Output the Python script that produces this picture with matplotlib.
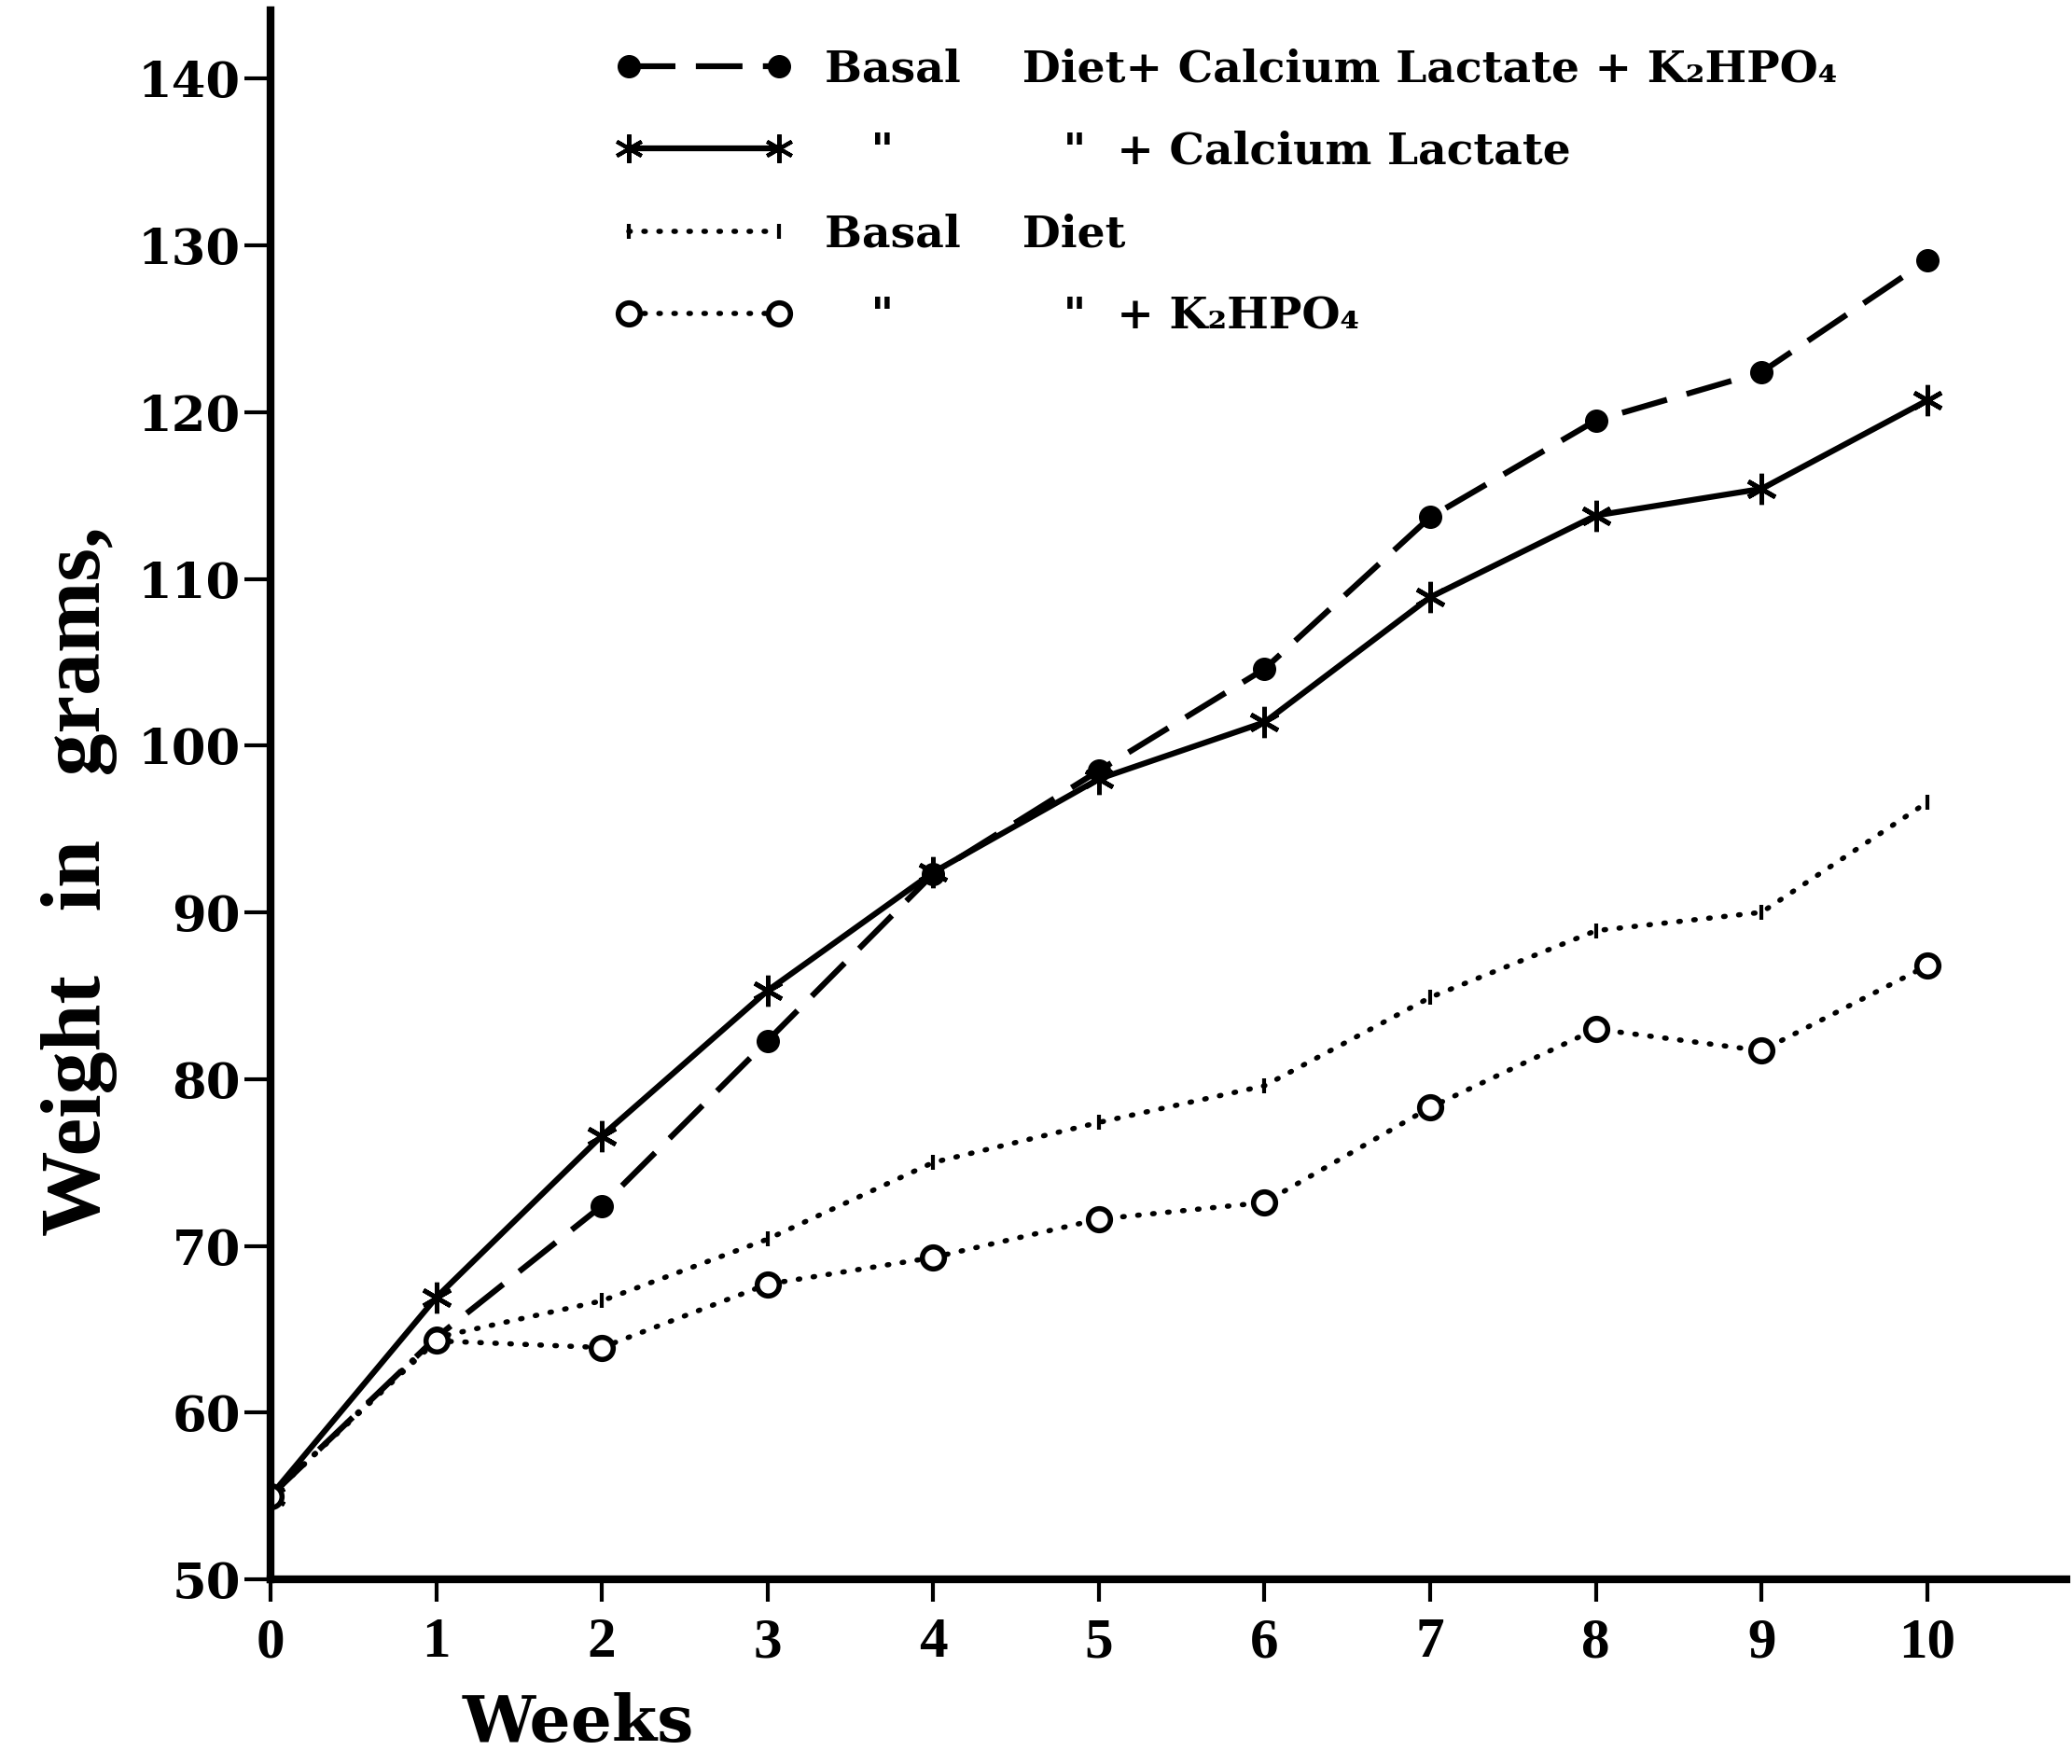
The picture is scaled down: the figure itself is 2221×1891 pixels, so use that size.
import matplotlib
matplotlib.use("Agg")
import matplotlib.pyplot as plt
from matplotlib.lines import Line2D
import numpy as np

plt.rcParams["font.family"] = "DejaVu Serif"
plt.rcParams["font.weight"] = "bold"

weeks = [0, 1, 2, 3, 4, 5, 6, 7, 8, 9, 10]

# basal diet + calcium lactate + K2HPO4
ca_k = [55.0, 64.5, 72.4, 82.3, 92.3, 98.5, 104.6, 113.7, 119.5, 122.4, 129.1]
# basal diet + calcium lactate
ca = [55.0, 66.9, 76.6, 85.3, 92.4, 98.0, 101.4, 108.9, 113.8, 115.4, 120.7]
# basal diet
basal = [55.0, 64.5, 66.7, 70.4, 75.0, 77.4, 79.6, 84.9, 88.9, 90.0, 96.6]
# basal diet + K2HPO4
basal_k = [55.0, 64.3, 63.9, 67.7, 69.3, 71.6, 72.6, 78.3, 83.0, 81.7, 86.8]

yticks = [50, 60, 70, 80, 90, 100, 110, 120, 130, 140]
labels = ["Basal    Diet+ Calcium Lactate + K\u2082HPO\u2084",
          '   "           "  + Calcium Lactate',
          "Basal    Diet",
          '   "           "  + K\u2082HPO\u2084']

W, H = 2221, 1891
fig = plt.figure(figsize=(W/100., H/100.), dpi=100)
ax = fig.add_axes([290./W, 198./H, (2215.-290)/W, (1693.-11)/H])

lw = 4.5
dash = (0, (8, 3.5))
dots = (0, (0.3, 2.6))

ax.plot(weeks, ca_k, color='k', lw=lw, ls=dash, marker='o', markersize=17)
ax.plot(weeks, ca, color='k', lw=lw, ls='-', marker=(6, 2, 0), markersize=24, mew=3.5)
ax.plot(weeks, basal, color='k', lw=4, ls=dots, dash_capstyle='round',
        marker='|', markersize=12, mew=3)
ax.plot(weeks, basal_k, color='k', lw=4, ls=dots, dash_capstyle='round',
        marker='o', markersize=17, mfc='white', mew=4)

ax.set_xlim(0, 10.84)
ax.set_ylim(50, 144.1)
ax.set_xticks(weeks)
ax.set_yticks(yticks)

for s in ['top', 'right']:
    ax.spines[s].set_visible(False)
for s in ['left', 'bottom']:
    ax.spines[s].set_linewidth(6)

ax.tick_params(axis='y', direction='out', length=20, width=3, pad=3, labelsize=38)
ax.tick_params(axis='x', direction='out', length=17, width=3, pad=12)
for t in ax.get_xticklabels():
    t.set_fontfamily("Liberation Serif")
    t.set_fontsize(44)
    t.set_fontweight("bold")

fig.text(85./W, 1 - 945./H, "Weight   in   grams,", rotation=90,
         ha='center', va='center', fontsize=66, family="Liberation Serif",
         fontweight='bold')
fig.text(620./W, 1 - 1847./H, "Weeks", ha='center', va='center',
         fontsize=50, fontweight='bold')

handles = [
    Line2D([], [], color='k', lw=lw, ls=dash, marker='o', markersize=17),
    Line2D([], [], color='k', lw=lw, ls='-', marker=(6, 2, 0), markersize=22, mew=3),
    Line2D([], [], color='k', lw=4, ls=dots, dash_capstyle='round', marker='|', markersize=12, mew=3),
    Line2D([], [], color='k', lw=4, ls=dots, dash_capstyle='round', marker='o', markersize=17,
           mfc='white', mew=4),
]
leg = ax.legend(handles, labels, loc='upper left', bbox_to_anchor=(0.18, 0.99),
                frameon=False, fontsize=34, handlelength=4.0, handletextpad=0.75,
                labelspacing=0.9, borderpad=0, numpoints=2)

fig.savefig("out.png", dpi=100, facecolor='white')
